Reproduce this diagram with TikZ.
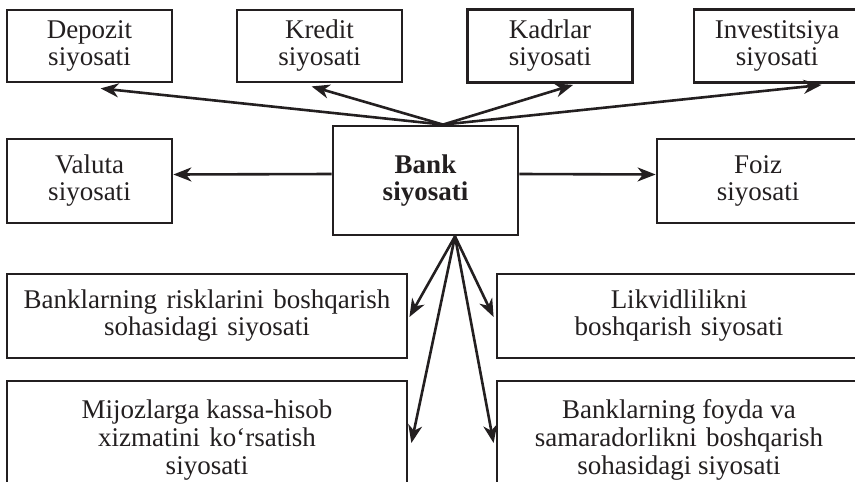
\documentclass[tikz,border=0pt]{standalone}
\usepackage{fontspec}
\setmainfont{Liberation Serif}
\usetikzlibrary{arrows.meta,calc}
\definecolor{ink}{HTML}{231F20}
% a wider inter-word gap, used in place of a plain space
\newcommand\wsp{\hspace{0.35em}}
\begin{document}
\begin{tikzpicture}[x=1pt,y=-1pt,
  box/.style={draw=ink, line width=2.8pt, align=center, inner sep=0pt,
    text=ink, font=\fontsize{27}{27}\selectfont},
  tall/.style={font=\fontsize{27}{28}\selectfont},
  link/.style={draw=ink, line width=2.6pt,
    -{Stealth[length=18pt,width=14pt,inset=5.5pt]}}]
\useasboundingbox (0,0) rectangle (855,482);
\clip (0,0) rectangle (855,482);

% top row
\node[box, minimum width=165pt, minimum height=72pt] (dep) at (89.5,46) {Depozit\\siyosati};
\node[box, minimum width=165pt, minimum height=72pt] (kre) at (319.5,46) {Kredit\\siyosati};
\node[box, minimum width=165pt, minimum height=73pt] (kad) at (550,46) {Kadrlar\\siyosati};
\node[box, minimum width=166pt, minimum height=73pt] (inv) at (777,46) {Investitsiya\\siyosati};

% middle row
\node[box, minimum width=165pt, minimum height=84pt] (val) at (89.5,181) {Valuta\\siyosati};
\node[box, minimum width=185pt, minimum height=109pt, font=\fontsize{27}{27}\selectfont\bfseries] (bank) at (425.5,180.5) {Bank\\siyosati};
\node[box, minimum width=202pt, minimum height=84pt] (foiz) at (758,181) {Foiz\\siyosati};

% lower rows
\node[box, minimum width=400pt, minimum height=84pt] (risk) at (207,316)
  {Banklarning\wsp risklarini\wsp boshqarish\\sohasidagi\wsp siyosati};
\node[box, minimum width=364pt, minimum height=84pt] (likv) at (679,316)
  {Likvidlilikni\\boshqarish\wsp siyosati};
\node[box, tall, minimum width=400pt, minimum height=118pt] (mij) at (207,440)
  {Mijozlarga kassa-hisob\\xizmatini\wsp ko‘rsatish\\siyosati};
\node[box, tall, minimum width=364pt, minimum height=118pt] (foy) at (679,440)
  {Banklarning foyda va\\samaradorlikni\wsp boshqarish\\sohasidagi siyosati};

% fan-out points on the central box
\coordinate (apexT) at ($(bank.north)+(17.5,0)$);
\coordinate (apexB) at ($(bank.south)+(29.5,0)$);

% connectors
\draw[link] (apexT) -- ($(dep.south west)+(95,5)$);
\draw[link] (apexT) -- ($(kre.south west)+(76,3)$);
\draw[link] (apexT) -- ($(kad.south west)+(107,1)$);
\draw[link] (apexT) -- ($(inv.south west)+(129,1)$);
\draw[link] ($(bank.west)+(0,-6.5)$) -- ($(val.east)+(0,-6.5)$);
\draw[link] ($(bank.east)+(0,-6.5)$) -- ($(foiz.west)+(0,-6.5)$);
\draw[link] (apexB) -- ($(risk.east)+(1,1)$);
\draw[link] (apexB) -- ($(likv.west)+(-2,1)$);
\draw[link] (apexB) -- ($(mij.east)+(3,3)$);
\draw[link] (apexB) -- ($(foy.west)+(-2,3)$);
\end{tikzpicture}
\end{document}
